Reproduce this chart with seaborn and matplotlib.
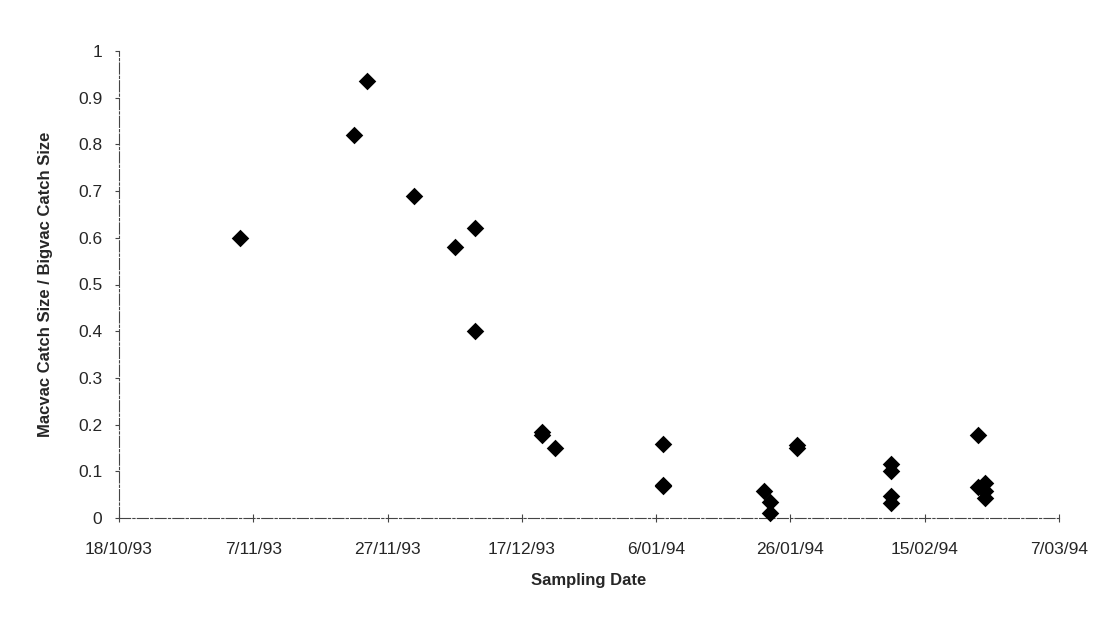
import matplotlib
matplotlib.use("Agg")
import matplotlib.pyplot as plt
import matplotlib.dates as mdates
import seaborn as sns
import pandas as pd
import numpy as np

sample_dates = [
    "1993-11-05", "1993-11-22", "1993-11-24", "1993-12-01", "1993-12-07",
    "1993-12-10", "1993-12-10", "1993-12-20", "1993-12-20", "1993-12-22",
    "1994-01-07", "1994-01-07", "1994-01-07",
    "1994-01-22", "1994-01-23", "1994-01-23", "1994-01-27", "1994-01-27",
    "1994-02-10", "1994-02-10", "1994-02-10", "1994-02-10",
    "1994-02-23", "1994-02-23", "1994-02-24", "1994-02-24", "1994-02-24",
]
catch_ratio = [
    0.60, 0.82, 0.935, 0.69, 0.58,
    0.62, 0.40, 0.185, 0.178, 0.15,
    0.158, 0.071, 0.068,
    0.058, 0.035, 0.011, 0.150, 0.157,
    0.115, 0.100, 0.047, 0.033,
    0.178, 0.066, 0.075, 0.057, 0.043,
]
x_ticks = ["1993-10-18", "1993-11-07", "1993-11-27", "1993-12-17",
           "1994-01-06", "1994-01-26", "1994-02-15", "1994-03-07"]
x_tick_labels = ["18/10/93", "7/11/93", "27/11/93", "17/12/93",
                 "6/01/94", "26/01/94", "15/02/94", "7/03/94"]
y_ticks = [0, 0.1, 0.2, 0.3, 0.4, 0.5, 0.6, 0.7, 0.8, 0.9, 1.0]
y_tick_labels = ["0", "0.1", "0.2", "0.3", "0.4", "0.5", "0.6", "0.7", "0.8", "0.9", "1"]

df = pd.DataFrame({"date": pd.to_datetime(sample_dates), "ratio": catch_ratio})

sns.set_style("white")
plt.rcParams["font.family"] = ["Liberation Sans", "DejaVu Sans"]

fig = plt.figure(figsize=(11.13, 6.2), dpi=100)
ax = fig.add_axes([119 / 1113, 1 - 518 / 620, (1059 - 119) / 1113, (518 - 51) / 620])

sns.scatterplot(data=df, x="date", y="ratio", marker="D", s=80, color="black",
                edgecolor="black", linewidth=0, ax=ax, zorder=3, clip_on=False)

xt = pd.to_datetime(x_ticks)
ax.set_xlim(xt[0], xt[-1])
ax.set_ylim(0, 1)
ax.set_xticks(xt)
ax.set_xticklabels(x_tick_labels)
ax.set_yticks(y_ticks)
ax.set_yticklabels(y_tick_labels)

for s in ["top", "right"]:
    ax.spines[s].set_visible(False)
for s in ["left", "bottom"]:
    ax.spines[s].set_color("#444444")
    ax.spines[s].set_linewidth(0.8)
    ax.spines[s].set_linestyle((0, (10, 2, 2, 2)))

ax.tick_params(axis="x", direction="inout", length=6, width=0.8, color="#444444",
               labelsize=12.5, pad=14, bottom=True)
ax.tick_params(axis="y", direction="out", length=3, width=0.8, color="#444444",
               labelsize=12.5, pad=9, left=True)

ax.set_xlabel("Sampling Date", fontsize=12, fontweight="bold", labelpad=12)
ax.set_ylabel("Macvac Catch Size / Bigvac Catch Size", fontsize=12,
              fontweight="bold", labelpad=18)

fig.savefig("out.png", dpi=100, facecolor="white")
